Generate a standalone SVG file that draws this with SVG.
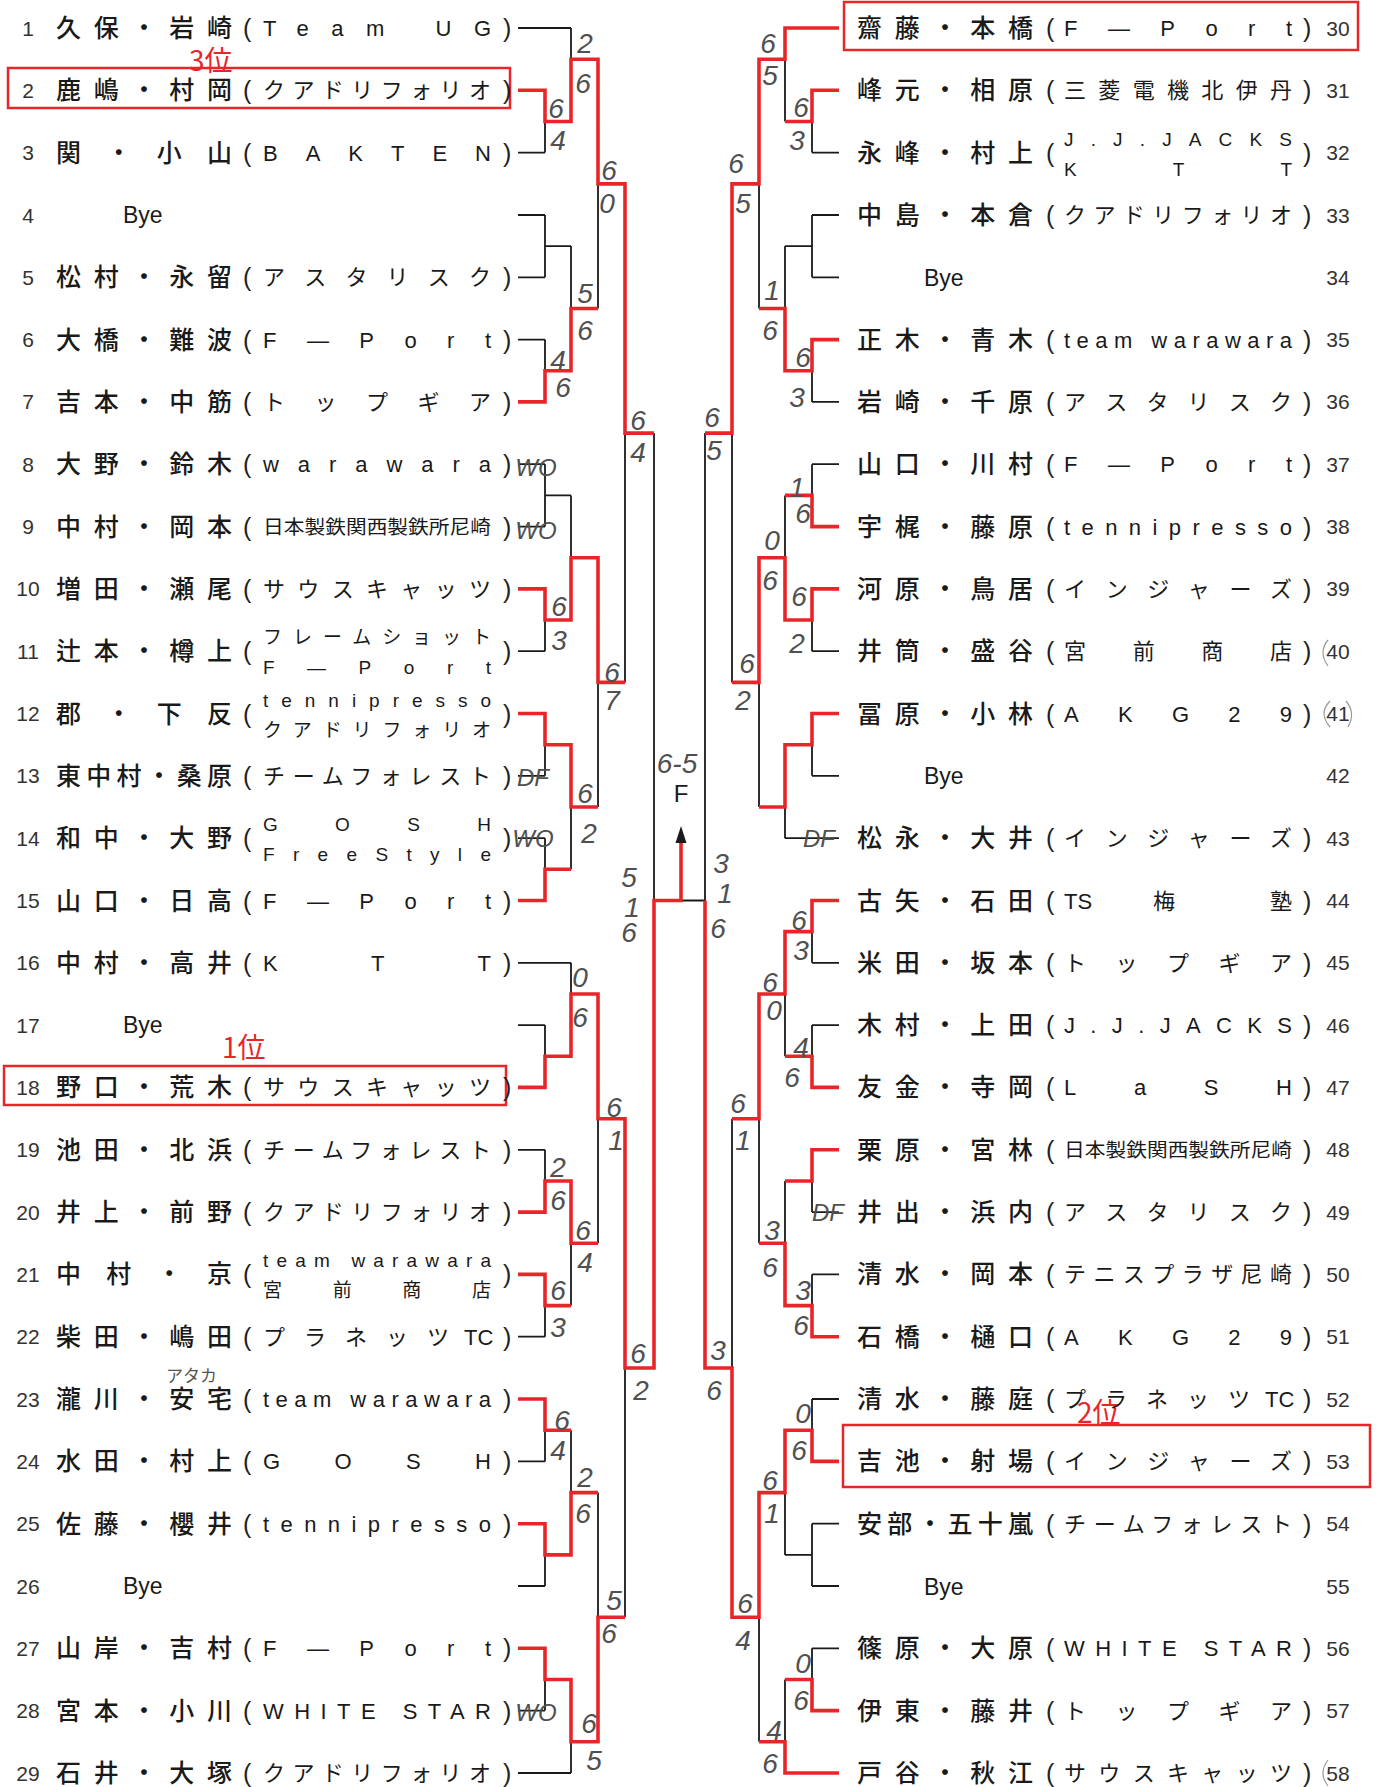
<svg xmlns="http://www.w3.org/2000/svg" width="1376" height="1787" viewBox="0 0 1376 1787">
<style>
.nm{font-family:"Noto Sans CJK JP",sans-serif;font-size:25px;font-weight:500;fill:#1a1a1a}
.tm{font-family:"Liberation Sans","Noto Sans CJK JP",sans-serif;font-size:22px;fill:#1a1a1a}
.t2{font-family:"Liberation Sans","Noto Sans CJK JP",sans-serif;font-size:19px;fill:#1a1a1a}
.num{font-family:"Liberation Sans",sans-serif;font-size:21px;fill:#333;text-anchor:middle}
.p{font-family:"Liberation Sans",sans-serif;font-size:25px;fill:#222}
.bye{font-family:"Liberation Sans",sans-serif;font-size:23px;fill:#1a1a1a}
.sc{font-family:"Liberation Sans",sans-serif;font-style:italic;font-size:28px;fill:#505050;text-anchor:middle}
.wo{font-family:"Liberation Sans",sans-serif;font-style:italic;font-size:24px;fill:#505050;text-anchor:middle}
.bk{fill:none;stroke:#1a1a1a;stroke-width:1.8}
.rd{fill:none;stroke:#e8262a;stroke-width:3.6}
.bx{fill:none;stroke:#e8262a;stroke-width:2.5}
.rt{font-family:"Noto Sans CJK JP",sans-serif;fill:#e8262a;font-size:28px}
.fa{fill:none;stroke:#9a9a9a;stroke-width:1.2}
</style>
<rect width="1376" height="1787" fill="#fff"/>

<g id="connectors">
<path class="bk" d="M518 28H571 M518 90.3H545 M518 152.6H545 M545 90.3V152.6 M545 121.5H571 M571 28V121.5 M571 59.2H598
M518 215H545 M518 277.3H545 M545 215V277.3 M545 246.1H571
M518 339.6H545 M518 401.9H545 M545 339.6V401.9 M545 370.8H571
M571 246.1V370.8 M571 308.5H598 M598 59.2V308.5 M598 183.9H625
M518 464.2H545 M518 526.6H545 M545 464.2V526.6 M545 495.4H571
M518 588.9H545 M518 651.2H545 M545 588.9V651.2 M545 620H571
M571 495.4V620 M571 557.7H598
M518 713.5H545 M518 775.8H545 M545 713.5V775.8 M545 744.7H571
M518 838.2H545 M518 900.5H545 M545 838.2V900.5 M545 869.3H571
M571 744.7V869.3 M571 807H598 M598 557.7V807 M598 682.4H625
M625 183.9V682.4 M625 433.1H654
M518 962.8H571 M518 1025.1H545 M518 1087.4H545 M545 1025.1V1087.4 M545 1056.3H571
M571 962.8V1056.3 M571 994H598
M518 1149.8H545 M518 1212.1H545 M545 1149.8V1212.1 M545 1181H571
M518 1274.4H545 M518 1336.7H545 M545 1274.4V1336.7 M545 1305.6H571
M571 1181V1305.6 M571 1243.3H598 M598 994V1243.3 M598 1118.7H625
M518 1399H545 M518 1461.4H545 M545 1399V1461.4 M545 1430.2H571
M518 1523.7H545 M518 1586H545 M545 1523.7V1586 M545 1554.9H571
M571 1430.2V1554.9 M571 1492.6H598
M518 1648.3H545 M518 1710.6H545 M545 1648.3V1710.6 M545 1679.5H571
M518 1773H571 M571 1679.5V1773 M571 1741.8H598
M598 1492.6V1741.8 M598 1617.2H625 M625 1118.7V1617.2 M625 1368H654
M654 433.1V1368 M654 900.5H705"/>
<path class="bk" d="M839 28H785 M839 90.3H812 M839 152.6H812 M812 90.3V152.6 M812 121.5H785 M785 28V121.5 M785 59.2H759
M839 215H812 M839 277.3H812 M812 215V277.3 M812 246.1H785
M839 339.6H812 M839 401.9H812 M812 339.6V401.9 M812 370.8H785
M785 246.1V370.8 M785 308.5H759 M759 59.2V308.5 M759 183.9H732
M839 464.2H812 M839 526.6H812 M812 464.2V526.6 M812 495.4H785
M839 588.9H812 M839 651.2H812 M812 588.9V651.2 M812 620H785
M785 495.4V620 M785 557.7H759
M839 713.5H812 M839 775.8H812 M812 713.5V775.8 M812 744.7H785
M839 838.2H785 M785 744.7V838.2 M785 807H759
M759 557.7V807 M759 682.4H732 M732 183.9V682.4 M732 433.1H705
M839 900.5H812 M839 962.8H812 M812 900.5V962.8 M812 931.6H785
M839 1025.1H812 M839 1087.4H812 M812 1025.1V1087.4 M812 1056.3H785
M785 931.6V1056.3 M785 994H759
M839 1149.8H812 M839 1212.1H812 M812 1149.8V1212.1 M812 1181H785
M839 1274.4H812 M839 1336.7H812 M812 1274.4V1336.7 M812 1305.6H785
M785 1181V1305.6 M785 1243.3H759 M759 994V1243.3 M759 1118.7H732
M839 1399H812 M839 1461.4H812 M812 1399V1461.4 M812 1430.2H785
M839 1523.7H812 M839 1586H812 M812 1523.7V1586 M812 1554.9H785
M785 1430.2V1554.9 M785 1492.6H759
M839 1648.3H812 M839 1710.6H812 M812 1648.3V1710.6 M812 1679.5H785
M839 1773H785 M785 1679.5V1773 M785 1741.8H759
M759 1492.6V1741.8 M759 1617.2H732 M732 1118.7V1617.2 M732 1368H705
M705 433.1V1368"/>
<path class="rd" d="M518 90.3H545V121.5H571V59.2H598V183.9H625V433.1H654
M518 401.9H545V370.8H571V308.5H598
M518 588.9H545V620H571V557.7H598V682.4H625
M518 713.5H545V744.7H571V807H598
M518 900.5H545V869.3H571
M518 1087.4H545V1056.3H571V994H598V1118.7H625V1368H654V900.5H681V842
M518 1212.1H545V1181H571V1243.3H598
M518 1274.4H545V1305.6H571
M518 1399H545V1430.2H571
M518 1523.7H545V1554.9H571V1492.6H598
M518 1648.3H545V1679.5H571V1741.8H598V1617.2H625"/>
<path class="rd" d="M839 28H785V59.2H759V183.9H732V433.1H705
M839 90.3H812V121.5H785
M839 339.6H812V370.8H785V308.5H759
M839 526.6H812V495.4H785
M839 588.9H812V620H785V557.7H759V682.4H732
M839 713.5H812V744.7H785V807H759
M839 900.5H812V931.6H785V994H759V1118.7H732
M839 1087.4H812V1056.3H785
M839 1149.8H812V1181H785
M839 1336.7H812V1305.6H785V1243.3H759
M839 1461.4H812V1430.2H785V1492.6H759V1617.2H732V1368H705V900.5
M839 1710.6H812V1679.5H785
M839 1773H785V1741.8H759"/>
<polygon points="681,826 675.5,843 686.5,843" fill="#1a1a1a"/>
</g>

<g id="scores">
<text class="sc" x="585" y="53">2</text><text class="sc" x="583" y="93">6</text>
<text class="sc" x="556" y="118">6</text><text class="sc" x="558" y="150">4</text>
<text class="sc" x="609" y="180">6</text><text class="sc" x="607" y="213">0</text>
<text class="sc" x="585" y="303">5</text><text class="sc" x="585" y="340">6</text>
<text class="sc" x="558" y="370">4</text><text class="sc" x="563" y="397">6</text>
<text class="sc" x="638" y="430">6</text><text class="sc" x="638" y="462">4</text>
<text class="sc" x="559" y="616">6</text><text class="sc" x="559" y="650">3</text>
<text class="sc" x="612" y="682">6</text><text class="sc" x="612" y="710">7</text>
<text class="sc" x="585" y="803">6</text><text class="sc" x="589" y="843">2</text>
<text class="sc" x="629" y="887">5</text><text class="sc" x="632" y="917">1</text><text class="sc" x="629" y="942">6</text>
<text class="sc" x="580" y="987">0</text><text class="sc" x="580" y="1027">6</text>
<text class="sc" x="614" y="1117">6</text><text class="sc" x="616" y="1150">1</text>
<text class="sc" x="558" y="1177">2</text><text class="sc" x="558" y="1210">6</text>
<text class="sc" x="583" y="1240">6</text><text class="sc" x="585" y="1272">4</text>
<text class="sc" x="558" y="1300">6</text><text class="sc" x="558" y="1337">3</text>
<text class="sc" x="638" y="1363">6</text><text class="sc" x="641" y="1400">2</text>
<text class="sc" x="562" y="1430">6</text><text class="sc" x="558" y="1460">4</text>
<text class="sc" x="585" y="1487">2</text><text class="sc" x="583" y="1523">6</text>
<text class="sc" x="614" y="1610">5</text><text class="sc" x="609" y="1643">6</text>
<text class="sc" x="589" y="1733">6</text><text class="sc" x="594" y="1770">5</text>
<text class="wo" x="536" y="476">WO</text><text class="wo" x="536" y="539">WO</text>
<text class="wo" x="533" y="786">DF</text><text class="wo" x="533" y="847">WO</text>
<text class="wo" x="536" y="1721">WO</text>
<text class="sc" x="768" y="53">6</text><text class="sc" x="770" y="85">5</text>
<text class="sc" x="801" y="117">6</text><text class="sc" x="797" y="150">3</text>
<text class="sc" x="736" y="173">6</text><text class="sc" x="743" y="213">5</text>
<text class="sc" x="772" y="300">1</text><text class="sc" x="770" y="340">6</text>
<text class="sc" x="803" y="367">6</text><text class="sc" x="797" y="407">3</text>
<text class="sc" x="712" y="427">6</text><text class="sc" x="714" y="460">5</text>
<text class="sc" x="797" y="497">1</text><text class="sc" x="803" y="523">6</text>
<text class="sc" x="772" y="550">0</text><text class="sc" x="770" y="590">6</text>
<text class="sc" x="799" y="606">6</text><text class="sc" x="797" y="653">2</text>
<text class="sc" x="747" y="673">6</text><text class="sc" x="743" y="710">2</text>
<text class="wo" x="819" y="847">DF</text>
<text class="sc" x="721" y="873">3</text><text class="sc" x="725" y="903">1</text><text class="sc" x="718" y="938">6</text>
<text class="sc" x="799" y="930">6</text><text class="sc" x="801" y="960">3</text>
<text class="sc" x="770" y="992">6</text><text class="sc" x="774" y="1020">0</text>
<text class="sc" x="801" y="1057">4</text><text class="sc" x="792" y="1087">6</text>
<text class="sc" x="738" y="1113">6</text><text class="sc" x="743" y="1150">1</text>
<text class="wo" x="828" y="1221">DF</text>
<text class="sc" x="772" y="1240">3</text><text class="sc" x="770" y="1277">6</text>
<text class="sc" x="803" y="1300">3</text><text class="sc" x="801" y="1335">6</text>
<text class="sc" x="718" y="1360">3</text><text class="sc" x="714" y="1400">6</text>
<text class="sc" x="803" y="1423">0</text><text class="sc" x="799" y="1460">6</text>
<text class="sc" x="770" y="1490">6</text><text class="sc" x="772" y="1523">1</text>
<text class="sc" x="745" y="1613">6</text><text class="sc" x="743" y="1650">4</text>
<text class="sc" x="803" y="1673">0</text><text class="sc" x="801" y="1710">6</text>
<text class="sc" x="774" y="1740">4</text><text class="sc" x="770" y="1773">6</text>
<text class="sc" x="677" y="773">6-5</text>
<text x="681" y="802" font-family="Liberation Sans,sans-serif" font-size="24" fill="#1a1a1a" text-anchor="middle">F</text>
</g>

<g id="marks">
<rect class="bx" x="8" y="68" width="502" height="40"/>
<rect class="bx" x="4" y="1066" width="502" height="39"/>
<rect class="bx" x="844" y="2" width="514" height="48"/>
<rect class="bx" x="843" y="1425" width="527" height="62"/>
<text class="rt" x="189" y="71">3位</text>
<text class="rt" x="222" y="1058">1位</text>
<text class="rt" x="1077" y="1423">2位</text>
<text x="166" y="1382" font-family="Noto Sans CJK JP,sans-serif" font-size="17" fill="#555">アタカ</text>
<path class="fa" d="M1328 640 Q1318 652 1328 666"/>
<path class="fa" d="M1330 701 Q1318 713 1330 727 M1346 701 Q1356 713 1348 727"/>
<path class="fa" d="M1328 1760 Q1318 1773 1328 1786"/>
</g>

<g id="r1"><text class="num" x="28" y="35.5">1</text><text class="nm" x="56" y="37" textLength="176" lengthAdjust="spacing">久保・岩崎</text><text class="p" x="243" y="37">(</text><text class="tm" x="263" y="36" textLength="228" lengthAdjust="spacing">Team UG</text><text class="p" x="503" y="37">)</text></g>
<g id="r2"><text class="num" x="28" y="97.8">2</text><text class="nm" x="56" y="99.3" textLength="176" lengthAdjust="spacing">鹿嶋・村岡</text><text class="p" x="243" y="99.3">(</text><text class="tm" x="263" y="98.3" textLength="228" lengthAdjust="spacing">クアドリフォリオ</text><text class="p" x="503" y="99.3">)</text></g>
<g id="r3"><text class="num" x="28" y="160.1">3</text><text class="nm" x="56" y="161.6" textLength="176" lengthAdjust="spacing">関・小山</text><text class="p" x="243" y="161.6">(</text><text class="tm" x="263" y="160.6" textLength="228" lengthAdjust="spacing">BAKTEN</text><text class="p" x="503" y="161.6">)</text></g>
<g id="r4"><text class="num" x="28" y="222.5">4</text><text class="bye" x="123" y="223">Bye</text></g>
<g id="r5"><text class="num" x="28" y="284.8">5</text><text class="nm" x="56" y="286.3" textLength="176" lengthAdjust="spacing">松村・永留</text><text class="p" x="243" y="286.3">(</text><text class="tm" x="263" y="285.3" textLength="228" lengthAdjust="spacing">アスタリスク</text><text class="p" x="503" y="286.3">)</text></g>
<g id="r6"><text class="num" x="28" y="347.1">6</text><text class="nm" x="56" y="348.6" textLength="176" lengthAdjust="spacing">大橋・難波</text><text class="p" x="243" y="348.6">(</text><text class="tm" x="263" y="347.6" textLength="228" lengthAdjust="spacing">F—Port</text><text class="p" x="503" y="348.6">)</text></g>
<g id="r7"><text class="num" x="28" y="409.4">7</text><text class="nm" x="56" y="410.9" textLength="176" lengthAdjust="spacing">吉本・中筋</text><text class="p" x="243" y="410.9">(</text><text class="tm" x="263" y="409.9" textLength="228" lengthAdjust="spacing">トップギア</text><text class="p" x="503" y="410.9">)</text></g>
<g id="r8"><text class="num" x="28" y="471.7">8</text><text class="nm" x="56" y="473.2" textLength="176" lengthAdjust="spacing">大野・鈴木</text><text class="p" x="243" y="473.2">(</text><text class="tm" x="263" y="472.2" textLength="228" lengthAdjust="spacing">warawara</text><text class="p" x="503" y="473.2">)</text></g>
<g id="r9"><text class="num" x="28" y="534.1">9</text><text class="nm" x="56" y="535.6" textLength="176" lengthAdjust="spacing">中村・岡本</text><text class="p" x="243" y="535.6">(</text><text class="t2" x="263" y="534" textLength="228" lengthAdjust="spacingAndGlyphs">日本製鉄関西製鉄所尼崎</text><text class="p" x="503" y="535.6">)</text></g>
<g id="r10"><text class="num" x="28" y="596.4">10</text><text class="nm" x="56" y="597.9" textLength="176" lengthAdjust="spacing">増田・瀬尾</text><text class="p" x="243" y="597.9">(</text><text class="tm" x="263" y="596.9" textLength="228" lengthAdjust="spacing">サウスキャッツ</text><text class="p" x="503" y="597.9">)</text></g>
<g id="r11"><text class="num" x="28" y="658.7">11</text><text class="nm" x="56" y="660.2" textLength="176" lengthAdjust="spacing">辻本・樽上</text><text class="p" x="243" y="660.2">(</text><text class="t2" x="263" y="644.2" textLength="228" lengthAdjust="spacing">フレームショット</text><text class="t2" x="263" y="674.2" textLength="228" lengthAdjust="spacing">F—Port</text><text class="p" x="503" y="660.2">)</text></g>
<g id="r12"><text class="num" x="28" y="721">12</text><text class="nm" x="56" y="722.5" textLength="176" lengthAdjust="spacing">郡・下反</text><text class="p" x="243" y="722.5">(</text><text class="t2" x="263" y="706.5" textLength="228" lengthAdjust="spacing">tennipresso</text><text class="t2" x="263" y="736.5" textLength="228" lengthAdjust="spacing">クアドリフォリオ</text><text class="p" x="503" y="722.5">)</text></g>
<g id="r13"><text class="num" x="28" y="783.3">13</text><text class="nm" x="56" y="784.8" textLength="176" lengthAdjust="spacing">東中村・桑原</text><text class="p" x="243" y="784.8">(</text><text class="tm" x="263" y="783.8" textLength="228" lengthAdjust="spacing">チームフォレスト</text><text class="p" x="503" y="784.8">)</text></g>
<g id="r14"><text class="num" x="28" y="845.7">14</text><text class="nm" x="56" y="847.2" textLength="176" lengthAdjust="spacing">和中・大野</text><text class="p" x="243" y="847.2">(</text><text class="t2" x="263" y="831.2" textLength="228" lengthAdjust="spacing">GOSH</text><text class="t2" x="263" y="861.2" textLength="228" lengthAdjust="spacing">FreeStyle</text><text class="p" x="503" y="847.2">)</text></g>
<g id="r15"><text class="num" x="28" y="908">15</text><text class="nm" x="56" y="909.5" textLength="176" lengthAdjust="spacing">山口・日高</text><text class="p" x="243" y="909.5">(</text><text class="tm" x="263" y="908.5" textLength="228" lengthAdjust="spacing">F—Port</text><text class="p" x="503" y="909.5">)</text></g>
<g id="r16"><text class="num" x="28" y="970.3">16</text><text class="nm" x="56" y="971.8" textLength="176" lengthAdjust="spacing">中村・高井</text><text class="p" x="243" y="971.8">(</text><text class="tm" x="263" y="970.8" textLength="228" lengthAdjust="spacing">KTT</text><text class="p" x="503" y="971.8">)</text></g>
<g id="r17"><text class="num" x="28" y="1032.6">17</text><text class="bye" x="123" y="1033">Bye</text></g>
<g id="r18"><text class="num" x="28" y="1094.9">18</text><text class="nm" x="56" y="1096.4" textLength="176" lengthAdjust="spacing">野口・荒木</text><text class="p" x="243" y="1096.4">(</text><text class="tm" x="263" y="1095.4" textLength="228" lengthAdjust="spacing">サウスキャッツ</text><text class="p" x="503" y="1096.4">)</text></g>
<g id="r19"><text class="num" x="28" y="1157.3">19</text><text class="nm" x="56" y="1158.8" textLength="176" lengthAdjust="spacing">池田・北浜</text><text class="p" x="243" y="1158.8">(</text><text class="tm" x="263" y="1157.8" textLength="228" lengthAdjust="spacing">チームフォレスト</text><text class="p" x="503" y="1158.8">)</text></g>
<g id="r20"><text class="num" x="28" y="1219.6">20</text><text class="nm" x="56" y="1221.1" textLength="176" lengthAdjust="spacing">井上・前野</text><text class="p" x="243" y="1221.1">(</text><text class="tm" x="263" y="1220.1" textLength="228" lengthAdjust="spacing">クアドリフォリオ</text><text class="p" x="503" y="1221.1">)</text></g>
<g id="r21"><text class="num" x="28" y="1281.9">21</text><text class="nm" x="56" y="1283.4" textLength="176" lengthAdjust="spacing">中村・京</text><text class="p" x="243" y="1283.4">(</text><text class="t2" x="263" y="1267.4" textLength="228" lengthAdjust="spacing">team warawara</text><text class="t2" x="263" y="1297.4" textLength="228" lengthAdjust="spacing">宮前商店</text><text class="p" x="503" y="1283.4">)</text></g>
<g id="r22"><text class="num" x="28" y="1344.2">22</text><text class="nm" x="56" y="1345.7" textLength="176" lengthAdjust="spacing">柴田・嶋田</text><text class="p" x="243" y="1345.7">(</text><text class="tm" x="263" y="1344.7" textLength="186" lengthAdjust="spacing">プラネッツ</text><text class="tm" x="464" y="1344.7">TC</text><text class="p" x="503" y="1345.7">)</text></g>
<g id="r23"><text class="num" x="28" y="1406.5">23</text><text class="nm" x="56" y="1408" textLength="176" lengthAdjust="spacing">瀧川・安宅</text><text class="p" x="243" y="1408">(</text><text class="tm" x="263" y="1407" textLength="228" lengthAdjust="spacing">team warawara</text><text class="p" x="503" y="1408">)</text></g>
<g id="r24"><text class="num" x="28" y="1468.9">24</text><text class="nm" x="56" y="1470.4" textLength="176" lengthAdjust="spacing">水田・村上</text><text class="p" x="243" y="1470.4">(</text><text class="tm" x="263" y="1469.4" textLength="228" lengthAdjust="spacing">GOSH</text><text class="p" x="503" y="1470.4">)</text></g>
<g id="r25"><text class="num" x="28" y="1531.2">25</text><text class="nm" x="56" y="1532.7" textLength="176" lengthAdjust="spacing">佐藤・櫻井</text><text class="p" x="243" y="1532.7">(</text><text class="tm" x="263" y="1531.7" textLength="228" lengthAdjust="spacing">tennipresso</text><text class="p" x="503" y="1532.7">)</text></g>
<g id="r26"><text class="num" x="28" y="1593.5">26</text><text class="bye" x="123" y="1594">Bye</text></g>
<g id="r27"><text class="num" x="28" y="1655.8">27</text><text class="nm" x="56" y="1657.3" textLength="176" lengthAdjust="spacing">山岸・吉村</text><text class="p" x="243" y="1657.3">(</text><text class="tm" x="263" y="1656.3" textLength="228" lengthAdjust="spacing">F—Port</text><text class="p" x="503" y="1657.3">)</text></g>
<g id="r28"><text class="num" x="28" y="1718.1">28</text><text class="nm" x="56" y="1719.6" textLength="176" lengthAdjust="spacing">宮本・小川</text><text class="p" x="243" y="1719.6">(</text><text class="tm" x="263" y="1718.6" textLength="228" lengthAdjust="spacing">WHITE STAR</text><text class="p" x="503" y="1719.6">)</text></g>
<g id="r29"><text class="num" x="28" y="1780.5">29</text><text class="nm" x="56" y="1782" textLength="176" lengthAdjust="spacing">石井・大塚</text><text class="p" x="243" y="1782">(</text><text class="tm" x="263" y="1781" textLength="228" lengthAdjust="spacing">クアドリフォリオ</text><text class="p" x="503" y="1782">)</text></g>

<g id="r30"><text class="nm" x="857" y="37" textLength="176" lengthAdjust="spacing">齋藤・本橋</text><text class="p" x="1046" y="37">(</text><text class="tm" x="1064" y="36" textLength="228" lengthAdjust="spacing">F—Port</text><text class="p" x="1303" y="37">)</text><text class="num" x="1338" y="35.5">30</text></g>
<g id="r31"><text class="nm" x="857" y="99.3" textLength="176" lengthAdjust="spacing">峰元・相原</text><text class="p" x="1046" y="99.3">(</text><text class="tm" x="1064" y="98.3" textLength="228" lengthAdjust="spacing">三菱電機北伊丹</text><text class="p" x="1303" y="99.3">)</text><text class="num" x="1338" y="97.8">31</text></g>
<g id="r32"><text class="nm" x="857" y="161.6" textLength="176" lengthAdjust="spacing">永峰・村上</text><text class="p" x="1046" y="161.6">(</text><text class="t2" x="1064" y="145.6" textLength="228" lengthAdjust="spacing">J.J.JACKS</text><text class="t2" x="1064" y="175.6" textLength="228" lengthAdjust="spacing">KTT</text><text class="p" x="1303" y="161.6">)</text><text class="num" x="1338" y="160.1">32</text></g>
<g id="r33"><text class="nm" x="857" y="224" textLength="176" lengthAdjust="spacing">中島・本倉</text><text class="p" x="1046" y="224">(</text><text class="tm" x="1064" y="223" textLength="228" lengthAdjust="spacing">クアドリフォリオ</text><text class="p" x="1303" y="224">)</text><text class="num" x="1338" y="222.5">33</text></g>
<g id="r34"><text class="bye" x="924" y="285.8">Bye</text><text class="num" x="1338" y="284.8">34</text></g>
<g id="r35"><text class="nm" x="857" y="348.6" textLength="176" lengthAdjust="spacing">正木・青木</text><text class="p" x="1046" y="348.6">(</text><text class="tm" x="1064" y="347.6" textLength="228" lengthAdjust="spacing">team warawara</text><text class="p" x="1303" y="348.6">)</text><text class="num" x="1338" y="347.1">35</text></g>
<g id="r36"><text class="nm" x="857" y="410.9" textLength="176" lengthAdjust="spacing">岩崎・千原</text><text class="p" x="1046" y="410.9">(</text><text class="tm" x="1064" y="409.9" textLength="228" lengthAdjust="spacing">アスタリスク</text><text class="p" x="1303" y="410.9">)</text><text class="num" x="1338" y="409.4">36</text></g>
<g id="r37"><text class="nm" x="857" y="473.2" textLength="176" lengthAdjust="spacing">山口・川村</text><text class="p" x="1046" y="473.2">(</text><text class="tm" x="1064" y="472.2" textLength="228" lengthAdjust="spacing">F—Port</text><text class="p" x="1303" y="473.2">)</text><text class="num" x="1338" y="471.7">37</text></g>
<g id="r38"><text class="nm" x="857" y="535.6" textLength="176" lengthAdjust="spacing">宇梶・藤原</text><text class="p" x="1046" y="535.6">(</text><text class="tm" x="1064" y="534.6" textLength="228" lengthAdjust="spacing">tennipresso</text><text class="p" x="1303" y="535.6">)</text><text class="num" x="1338" y="534.1">38</text></g>
<g id="r39"><text class="nm" x="857" y="597.9" textLength="176" lengthAdjust="spacing">河原・鳥居</text><text class="p" x="1046" y="597.9">(</text><text class="tm" x="1064" y="596.9" textLength="228" lengthAdjust="spacing">インジャーズ</text><text class="p" x="1303" y="597.9">)</text><text class="num" x="1338" y="596.4">39</text></g>
<g id="r40"><text class="nm" x="857" y="660.2" textLength="176" lengthAdjust="spacing">井筒・盛谷</text><text class="p" x="1046" y="660.2">(</text><text class="tm" x="1064" y="659.2" textLength="228" lengthAdjust="spacing">宮前商店</text><text class="p" x="1303" y="660.2">)</text><text class="num" x="1338" y="658.7">40</text></g>
<g id="r41"><text class="nm" x="857" y="722.5" textLength="176" lengthAdjust="spacing">冨原・小林</text><text class="p" x="1046" y="722.5">(</text><text class="tm" x="1064" y="721.5" textLength="228" lengthAdjust="spacing">AKG29</text><text class="p" x="1303" y="722.5">)</text><text class="num" x="1338" y="721">41</text></g>
<g id="r42"><text class="bye" x="924" y="784.3">Bye</text><text class="num" x="1338" y="783.3">42</text></g>
<g id="r43"><text class="nm" x="857" y="847.2" textLength="176" lengthAdjust="spacing">松永・大井</text><text class="p" x="1046" y="847.2">(</text><text class="tm" x="1064" y="846.2" textLength="228" lengthAdjust="spacing">インジャーズ</text><text class="p" x="1303" y="847.2">)</text><text class="num" x="1338" y="845.7">43</text></g>
<g id="r44"><text class="nm" x="857" y="909.5" textLength="176" lengthAdjust="spacing">古矢・石田</text><text class="p" x="1046" y="909.5">(</text><text class="tm" x="1064" y="908.5">TS</text><text class="tm" x="1153" y="908.5">梅</text><text class="tm" x="1270" y="908.5">塾</text><text class="p" x="1303" y="909.5">)</text><text class="num" x="1338" y="908">44</text></g>
<g id="r45"><text class="nm" x="857" y="971.8" textLength="176" lengthAdjust="spacing">米田・坂本</text><text class="p" x="1046" y="971.8">(</text><text class="tm" x="1064" y="970.8" textLength="228" lengthAdjust="spacing">トップギア</text><text class="p" x="1303" y="971.8">)</text><text class="num" x="1338" y="970.3">45</text></g>
<g id="r46"><text class="nm" x="857" y="1034.1" textLength="176" lengthAdjust="spacing">木村・上田</text><text class="p" x="1046" y="1034.1">(</text><text class="tm" x="1064" y="1033.1" textLength="228" lengthAdjust="spacing">J.J.JACKS</text><text class="p" x="1303" y="1034.1">)</text><text class="num" x="1338" y="1032.6">46</text></g>
<g id="r47"><text class="nm" x="857" y="1096.4" textLength="176" lengthAdjust="spacing">友金・寺岡</text><text class="p" x="1046" y="1096.4">(</text><text class="tm" x="1064" y="1095.4" textLength="228" lengthAdjust="spacing">LaSH</text><text class="p" x="1303" y="1096.4">)</text><text class="num" x="1338" y="1094.9">47</text></g>
<g id="r48"><text class="nm" x="857" y="1158.8" textLength="176" lengthAdjust="spacing">栗原・宮林</text><text class="p" x="1046" y="1158.8">(</text><text class="t2" x="1064" y="1157.2" textLength="228" lengthAdjust="spacingAndGlyphs">日本製鉄関西製鉄所尼崎</text><text class="p" x="1303" y="1158.8">)</text><text class="num" x="1338" y="1157.3">48</text></g>
<g id="r49"><text class="nm" x="857" y="1221.1" textLength="176" lengthAdjust="spacing">井出・浜内</text><text class="p" x="1046" y="1221.1">(</text><text class="tm" x="1064" y="1220.1" textLength="228" lengthAdjust="spacing">アスタリスク</text><text class="p" x="1303" y="1221.1">)</text><text class="num" x="1338" y="1219.6">49</text></g>
<g id="r50"><text class="nm" x="857" y="1283.4" textLength="176" lengthAdjust="spacing">清水・岡本</text><text class="p" x="1046" y="1283.4">(</text><text class="tm" x="1064" y="1282.4" textLength="228" lengthAdjust="spacing">テニスプラザ尼崎</text><text class="p" x="1303" y="1283.4">)</text><text class="num" x="1338" y="1281.9">50</text></g>
<g id="r51"><text class="nm" x="857" y="1345.7" textLength="176" lengthAdjust="spacing">石橋・樋口</text><text class="p" x="1046" y="1345.7">(</text><text class="tm" x="1064" y="1344.7" textLength="228" lengthAdjust="spacing">AKG29</text><text class="p" x="1303" y="1345.7">)</text><text class="num" x="1338" y="1344.2">51</text></g>
<g id="r52"><text class="nm" x="857" y="1408" textLength="176" lengthAdjust="spacing">清水・藤庭</text><text class="p" x="1046" y="1408">(</text><text class="tm" x="1064" y="1407" textLength="186" lengthAdjust="spacing">プラネッツ</text><text class="tm" x="1265" y="1407">TC</text><text class="p" x="1303" y="1408">)</text><text class="num" x="1338" y="1406.5">52</text></g>
<g id="r53"><text class="nm" x="857" y="1470.4" textLength="176" lengthAdjust="spacing">吉池・射場</text><text class="p" x="1046" y="1470.4">(</text><text class="tm" x="1064" y="1469.4" textLength="228" lengthAdjust="spacing">インジャーズ</text><text class="p" x="1303" y="1470.4">)</text><text class="num" x="1338" y="1468.9">53</text></g>
<g id="r54"><text class="nm" x="857" y="1532.7" textLength="176" lengthAdjust="spacing">安部・五十嵐</text><text class="p" x="1046" y="1532.7">(</text><text class="tm" x="1064" y="1531.7" textLength="228" lengthAdjust="spacing">チームフォレスト</text><text class="p" x="1303" y="1532.7">)</text><text class="num" x="1338" y="1531.2">54</text></g>
<g id="r55"><text class="bye" x="924" y="1594.5">Bye</text><text class="num" x="1338" y="1593.5">55</text></g>
<g id="r56"><text class="nm" x="857" y="1657.3" textLength="176" lengthAdjust="spacing">篠原・大原</text><text class="p" x="1046" y="1657.3">(</text><text class="tm" x="1064" y="1656.3" textLength="228" lengthAdjust="spacing">WHITE STAR</text><text class="p" x="1303" y="1657.3">)</text><text class="num" x="1338" y="1655.8">56</text></g>
<g id="r57"><text class="nm" x="857" y="1719.6" textLength="176" lengthAdjust="spacing">伊東・藤井</text><text class="p" x="1046" y="1719.6">(</text><text class="tm" x="1064" y="1718.6" textLength="228" lengthAdjust="spacing">トップギア</text><text class="p" x="1303" y="1719.6">)</text><text class="num" x="1338" y="1718.1">57</text></g>
<g id="r58"><text class="nm" x="857" y="1782" textLength="176" lengthAdjust="spacing">戸谷・秋江</text><text class="p" x="1046" y="1782">(</text><text class="tm" x="1064" y="1781" textLength="228" lengthAdjust="spacing">サウスキャッツ</text><text class="p" x="1303" y="1782">)</text><text class="num" x="1338" y="1780.5">58</text></g>
</svg>
